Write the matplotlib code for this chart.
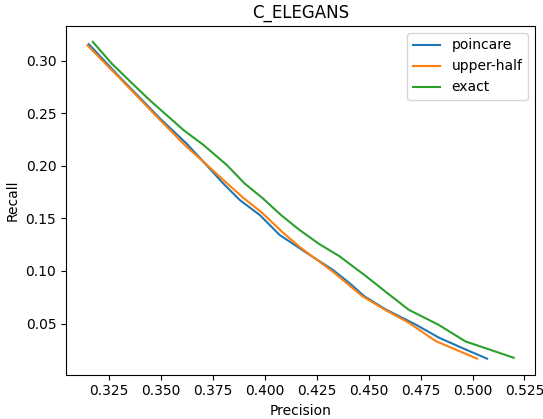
import matplotlib
matplotlib.use("Agg")
import matplotlib.pyplot as plt
from matplotlib.ticker import MultipleLocator

# precision / recall curves
poincare_x = [0.3154, 0.3300, 0.3498, 0.3625, 0.3721, 0.3801, 0.3881, 0.3977,
              0.4072, 0.4168, 0.4250, 0.4328, 0.4408, 0.4480, 0.4583, 0.4727,
              0.4839, 0.4966, 0.5070]
poincare_y = [0.3158, 0.2850, 0.2448, 0.2211, 0.2006, 0.1832, 0.1674, 0.1532,
              0.1343, 0.1217, 0.1110, 0.1011, 0.0885, 0.0759, 0.0633, 0.0490,
              0.0365, 0.0254, 0.0166]

upper_x = [0.3147, 0.3305, 0.3495, 0.3620, 0.3722, 0.3810, 0.3895, 0.3990,
           0.4085, 0.4168, 0.4330, 0.4471, 0.4580, 0.4694, 0.4823, 0.5022]
upper_y = [0.3148, 0.2830, 0.2440, 0.2190, 0.2010, 0.1850, 0.1700, 0.1550,
           0.1370, 0.1230, 0.0990, 0.0759, 0.0630, 0.0507, 0.0333, 0.0166]

exact_x = [0.3173, 0.3266, 0.3360, 0.3450, 0.3530, 0.3610, 0.3705, 0.3817,
           0.3905, 0.3992, 0.4080, 0.4168, 0.4260, 0.4360, 0.4488, 0.4590,
           0.4694, 0.4835, 0.4966, 0.5198]
exact_y = [0.3180, 0.2970, 0.2790, 0.2620, 0.2480, 0.2340, 0.2200, 0.2010,
           0.1830, 0.1690, 0.1530, 0.1390, 0.1260, 0.1140, 0.0950, 0.0790,
           0.0630, 0.0490, 0.0330, 0.0175]

fig = plt.figure(figsize=(5.43, 4.19), dpi=100)
ax = fig.add_axes([66 / 543, 1 - 374.5 / 419, (535 - 66) / 543, (374.5 - 26) / 419])
ax.plot(poincare_x, poincare_y, label="poincare")
ax.plot(upper_x, upper_y, label="upper-half")
ax.plot(exact_x, exact_y, label="exact")
ax.xaxis.set_major_locator(MultipleLocator(0.025))
ax.set_title("C_ELEGANS")
ax.set_xlabel("Precision")
ax.set_ylabel("Recall")
ax.legend(loc="upper right")
fig.savefig("out.png", dpi=100)
